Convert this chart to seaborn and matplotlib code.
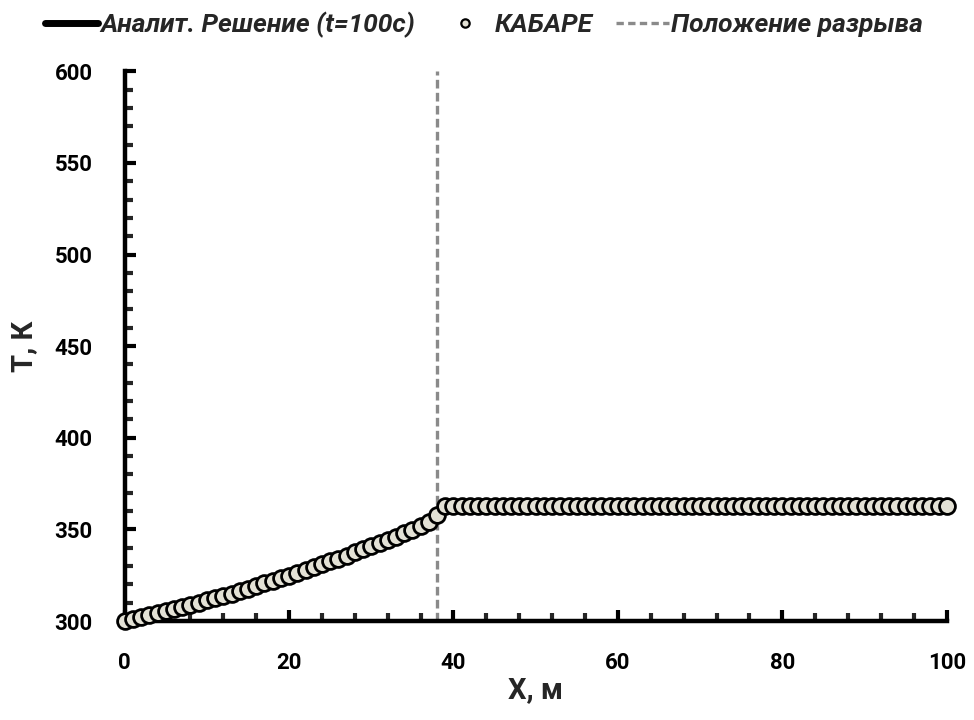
import matplotlib
matplotlib.use("Agg")
import matplotlib.pyplot as plt
import seaborn as sns
import pandas as pd
from matplotlib.lines import Line2D
from matplotlib.ticker import MultipleLocator

# ---- data ----
x_vals = list(range(0, 101))
T_curve = [300.0, 301.0, 302.0, 303.1, 304.2, 305.3, 306.4, 307.6, 308.8, 310.0,
           311.2, 312.5, 313.7, 315.0, 316.4, 317.7, 319.1, 320.5, 321.9, 323.3,
           324.8, 326.3, 327.8, 329.3, 330.9, 332.5, 334.1, 335.7, 337.4, 339.1,
           340.8, 342.5, 344.3, 346.1, 347.9, 349.7, 351.6, 354.0, 358.0]
T_plateau = [362.5] * 62
T_kabare = T_curve + T_plateau
T_analyt = T_curve + T_plateau
x_jump = 38
legend_labels = ["Аналит. Решение (t=100с)", "КАБАРЕ", "Положение разрыва"]
x_label = "X, м"
y_label = "T, К"

df = pd.DataFrame({"x": x_vals, "T_kabare": T_kabare, "T_analyt": T_analyt})

sns.set_style("ticks")
plt.rcParams["font.family"] = ["Roboto", "DejaVu Sans"]

fig = plt.figure(figsize=(9.74, 7.2), dpi=100)
ax = fig.add_axes([0.128, 0.1375, 0.844, 0.7635])

sns.lineplot(data=df, x="x", y="T_analyt", ax=ax, color="black", lw=3, zorder=2)
ax.axvline(x_jump, color="#8a8a8a", lw=2.4, ls=(0, (2.6, 1.3)), zorder=1)
sns.scatterplot(data=df, x="x", y="T_kabare", ax=ax, s=130, color="#e3e1d5",
                edgecolor="black", linewidth=2.0, zorder=3, clip_on=False)

ax.set_xlim(0, 100)
ax.set_ylim(300, 600)
ax.xaxis.set_major_locator(MultipleLocator(20))
ax.xaxis.set_minor_locator(MultipleLocator(4))
ax.yaxis.set_major_locator(MultipleLocator(50))
ax.yaxis.set_minor_locator(MultipleLocator(10))

for s in ["top", "right"]:
    ax.spines[s].set_visible(False)
for s in ["left", "bottom"]:
    ax.spines[s].set_linewidth(3.2)
    ax.spines[s].set_color("black")

ax.tick_params(axis="both", which="major", direction="in", length=8, width=3,
               labelsize=16, colors="black")
ax.tick_params(axis="both", which="minor", direction="in", length=6, width=3)
for lab in ax.get_xticklabels() + ax.get_yticklabels():
    lab.set_fontweight("bold")
ax.tick_params(axis="x", pad=22)
ax.tick_params(axis="y", pad=23)

ax.set_xlabel(x_label, fontsize=21, fontweight="bold")
ax.set_ylabel(y_label, fontsize=21, fontweight="bold")
ax.xaxis.set_label_coords(0.5, -0.1)
ax.yaxis.set_label_coords(-0.105, 0.5)

handles = [
    Line2D([0], [0], color="black", lw=5),
    Line2D([0], [0], color="none", marker="o", markersize=6,
           markerfacecolor="#e3e1d5", markeredgecolor="black", markeredgewidth=1.6),
    Line2D([0], [0], color="#8a8a8a", lw=2.4, ls=(0, (2.2, 1.3))),
]
leg = fig.legend(handles, legend_labels, loc="center", bbox_to_anchor=(0.497, 0.966),
                 ncol=3, frameon=False, handlelength=2.0, handletextpad=0.1,
                 columnspacing=0.9, prop={"size": 19, "weight": "bold", "style": "italic"})

fig.savefig("out.png", dpi=100)
